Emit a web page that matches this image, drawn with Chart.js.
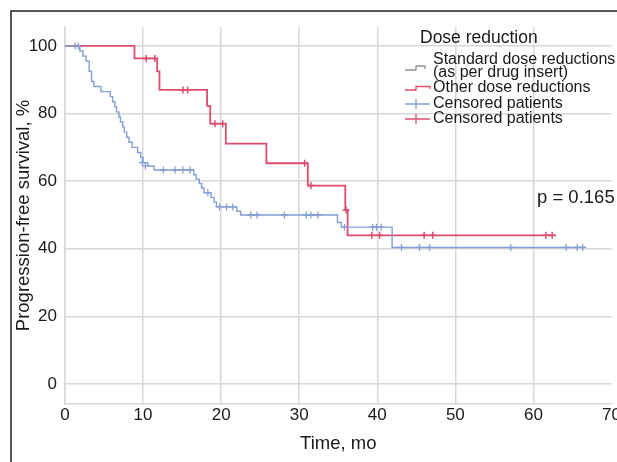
<!DOCTYPE html>
<html>
<head>
<meta charset="utf-8">
<script src="https://cdn.jsdelivr.net/npm/chart.js@4"></script>
<style>
  html, body { margin: 0; padding: 0; background: #fff; }
  #wrap { width: 617px; height: 462px; position: relative; }
</style>
</head>
<body>
<div id="wrap"><canvas id="km-chart"></canvas></div>
<script>
/* Kaplan-Meier data (time in months, survival in %) */

const stdTimes = [0, 1.9, 2.3, 2.7, 3.1, 3.4, 3.7, 4.6, 5.8, 6.1, 6.4, 6.6, 6.9, 7.1, 7.4, 7.6, 7.9, 8.2, 8.6, 9.3, 9.7, 10.0, 10.6, 11.4,
  16.5, 16.8, 17.2, 17.5, 17.8, 18.7, 19.1, 19.4, 22.0, 22.5, 34.9, 35.4, 41.9, 66.7];
const stdSurv = [100, 98.5, 97, 95.5, 92.5, 89.5, 88, 86.5, 85, 83.5, 82, 80.5, 79, 77.5, 76, 74.5, 73, 71.5, 70, 68.5, 67, 65.5, 64.5, 63.3,
  61.9, 60.6, 59.3, 58, 56.6, 55.2, 53.8, 52.4, 51.1, 50, 47.8, 46.4, 40.4, 40.4];

const stdCensorTimes = [1.3, 1.7, 9.9, 10.3, 12.6, 14.1, 15.1, 16.0, 18.3, 19.8, 20.7, 21.5, 23.8, 24.6, 28.1, 30.9, 31.5, 32.4,
  35.8, 39.4, 39.9, 40.5, 43.1, 45.4, 46.7, 57.1, 64.2, 65.6, 66.3];
const stdCensorSurv = [100, 100, 65.5, 64.5, 63.3, 63.3, 63.3, 63.3, 56.6, 52.4, 52.4, 52.4, 50, 50, 50, 50, 50, 50,
  46.4, 46.4, 46.4, 46.4, 40.4, 40.4, 40.4, 40.4, 40.4, 40.4, 40.4];

const otherTimes = [0, 8.9, 11.8, 12.1, 18.2, 18.6, 20.6, 25.8, 31.1, 35.9, 36.2, 62.9];
const otherSurv = [100, 96.3, 92.5, 87, 82.3, 77, 71.1, 65.3, 58.7, 51.5, 44, 44];

const otherCensorTimes = [10.4, 11.5, 15.1, 15.7, 19.2, 20.2, 30.7, 31.5, 36.0, 39.3, 40.3, 46.0, 47.1, 61.6, 62.4];
const otherCensorSurv = [96.3, 96.3, 87, 87, 77, 77, 65.3, 58.7, 51.5, 44, 44, 44, 44, 44, 44];

const xTicks = [0, 10, 20, 30, 40, 50, 60, 70];
const yTicks = [0, 20, 40, 60, 80, 100];

const legendTitle = "Dose reduction";
const legendItems = ["Standard dose reductions", "(as per drug insert)", "Other dose reductions", "Censored patients", "Censored patients"];
const pValueText = "p = 0.165";

const blue = "#829fd6";
const red = "#dc4d6e";
const gridColor = "#d8d8d8";
const font = "'Liberation Sans', Arial, Helvetica, sans-serif";

function toPoints(xs, ys) {
  return xs.map((x, i) => ({ x: x, y: ys[i] }));
}


/* frame, legend and p value */

const extras = {
  id: "extras",
  afterDraw(chart) {
    const c = chart.ctx;
    c.save();

    // outer frame
    c.strokeStyle = "#222";
    c.lineWidth = 1.5;
    c.beginPath();
    c.moveTo(617, 11);
    c.lineTo(11, 11);
    c.lineTo(11, 462);
    c.stroke();

    // legend
    c.fillStyle = "#1a1a1a";
    c.textBaseline = "middle";
    c.font = "17.5px " + font;
    c.fillText(legendTitle, 420, 38);
    c.font = "16px " + font;
    const rows = [60, 72.5, 88, 104, 119];
    legendItems.forEach((t, i) => c.fillText(t, 433, rows[i]));

    c.lineWidth = 1.3;
    c.strokeStyle = "#8c919b";
    c.beginPath();
    c.moveTo(405, 70); c.lineTo(416, 70); c.lineTo(416, 66); c.lineTo(425, 66); c.lineTo(425, 69);
    c.stroke();

    c.strokeStyle = red;
    c.beginPath();
    c.moveTo(405, 90); c.lineTo(416, 90); c.lineTo(416, 86.5); c.lineTo(430, 86.5); c.lineTo(430, 89);
    c.stroke();

    c.strokeStyle = blue;
    c.beginPath();
    c.moveTo(405, 104); c.lineTo(430, 104); c.moveTo(416, 99); c.lineTo(416, 109);
    c.stroke();

    c.strokeStyle = red;
    c.beginPath();
    c.moveTo(405, 119); c.lineTo(430, 119); c.moveTo(416, 114); c.lineTo(416, 124);
    c.stroke();

    // p value
    c.fillStyle = "#1a1a1a";
    c.font = "18.5px " + font;
    c.fillText(pValueText, 537, 198);

    c.restore();
  }
};


/* chart */

const ctx = document.getElementById("km-chart");

new Chart(ctx, {
  type: "line",
  data: {
    datasets: [
      {
        label: "Standard dose reductions",
        data: toPoints(stdTimes, stdSurv),
        borderColor: blue,
        borderWidth: 1.4,
        stepped: true,
        pointRadius: 0,
        fill: false
      },
      {
        label: "Other dose reductions",
        data: toPoints(otherTimes, otherSurv),
        borderColor: red,
        borderWidth: 1.8,
        stepped: true,
        pointRadius: 0,
        fill: false
      },
      {
        label: "Censored patients",
        data: toPoints(stdCensorTimes, stdCensorSurv),
        showLine: false,
        pointStyle: "cross",
        pointRadius: 3.5,
        pointBorderWidth: 1.3,
        pointBorderColor: blue
      },
      {
        label: "Censored patients",
        data: toPoints(otherCensorTimes, otherCensorSurv),
        showLine: false,
        pointStyle: "cross",
        pointRadius: 3.5,
        pointBorderWidth: 1.5,
        pointBorderColor: red
      }
    ]
  },
  options: {
    responsive: true,
    maintainAspectRatio: false,
    animation: false,
    layout: { padding: { top: 27, right: 5, left: 0, bottom: 0 } },
    plugins: {
      legend: { display: false },
      tooltip: { enabled: false }
    },
    scales: {
      x: {
        type: "linear",
        min: 0,
        max: 70,
        afterFit: s => { s.height = 58; s.paddingLeft = 0; s.paddingRight = 0; },
        afterBuildTicks: s => { s.ticks = xTicks.map(v => ({ value: v })); },
        grid: {
          color: c => (c.tick && c.tick.value === 70 ? "rgba(0,0,0,0)" : gridColor),
          lineWidth: 1.5,
          drawTicks: false
        },
        border: { color: gridColor, width: 1.5 },
        ticks: { color: "#1a1a1a", font: { size: 17, family: font }, padding: 1, maxRotation: 0 },
        title: {
          display: true,
          text: "Time, mo",
          color: "#1a1a1a",
          font: { size: 18.5, family: font },
          padding: { top: 0, bottom: 7 }
        }
      },
      y: {
        type: "linear",
        min: -5.9,
        max: 105.6,
        afterFit: s => { s.width = 65; s.paddingTop = 0; s.paddingBottom = 0; },
        afterBuildTicks: s => { s.ticks = yTicks.map(v => ({ value: v })); },
        grid: { color: gridColor, lineWidth: 1.5, drawTicks: false },
        border: { color: gridColor, width: 1.5 },
        ticks: { color: "#1a1a1a", font: { size: 17, family: font }, padding: 8 },
        title: {
          display: true,
          text: "Progression-free survival, %",
          color: "#1a1a1a",
          font: { size: 18.5, family: font },
          padding: { top: 13, bottom: 0 }
        }
      }
    }
  },
  plugins: [extras]
});
</script>
</body>
</html>
